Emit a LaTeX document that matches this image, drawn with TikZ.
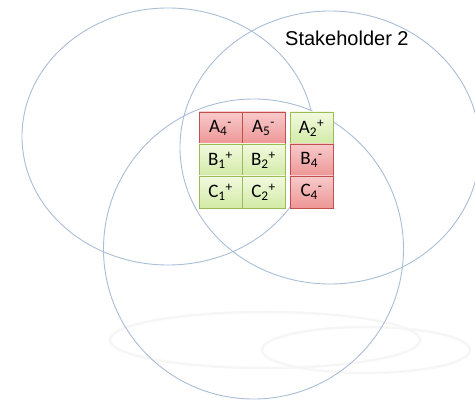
\documentclass[tikz,border=0pt]{standalone}
\usepackage{fontspec}
\setmainfont{Carlito}
\newfontfamily\labelfont{Liberation Sans}
\usetikzlibrary{shadows}
\definecolor{ringcol}{HTML}{A9BDD6}
\definecolor{redtop}{HTML}{F8CACA}
\definecolor{redbot}{HTML}{EE9696}
\definecolor{redline}{HTML}{C0504D}
\definecolor{greentop}{HTML}{F2FADF}
\definecolor{greenbot}{HTML}{D2EAA6}
\definecolor{greenline}{HTML}{9BBB59}
\definecolor{reflcol}{HTML}{F6F6F6}
\tikzset{
  ring/.style={draw=ringcol, line width=0.9pt},
  refl/.style={draw=reflcol, line width=2.5pt},
  cell/.style={minimum width=43pt, minimum height=32pt, inner sep=0pt,
    font=\fontsize{19}{22}\selectfont, line width=0.8pt,
    drop shadow={opacity=0.25, shadow xshift=1pt, shadow yshift=-1pt}},
  redcell/.style={cell, draw=redline, top color=redtop, bottom color=redbot},
  greencell/.style={cell, draw=greenline, top color=greentop, bottom color=greenbot}
}
\begin{document}
\begin{tikzpicture}[x=1pt,y=-1pt]
\useasboundingbox (0,0) rectangle (475,401);
% faint reflections
\draw[refl] (265,340) ellipse [x radius=155pt, y radius=28pt];
\draw[refl] (366,350) ellipse [x radius=104pt, y radius=23pt];
% rings
\draw[ring] (168,136.5) ellipse [x radius=146pt, y radius=128.5pt];
\draw[ring] (330,147.5) ellipse [x radius=150pt, y radius=136.5pt];
\draw[ring] (253.5,249) ellipse [x radius=150pt, y radius=150pt];
% label
\node[font=\labelfont\fontsize{20}{24}\selectfont, anchor=base west, inner sep=0pt] (sh2) at (285,46) {Stakeholder 2};
% cells
\node[redcell]   (a4) at (220.5,128) {A\textsubscript{4}\textsuperscript{-}};
\node[redcell]   (a5) at (263.5,128) {A\textsubscript{5}\textsuperscript{-}};
\node[greencell] (b1) at (220.5,160) {B\textsubscript{1}\textsuperscript{+}};
\node[greencell] (b2) at (263.5,160) {B\textsubscript{2}\textsuperscript{+}};
\node[greencell] (c1) at (220.5,192) {C\textsubscript{1}\textsuperscript{+}};
\node[greencell] (c2) at (263.5,192) {C\textsubscript{2}\textsuperscript{+}};
\node[greencell] (a2) at (311.5,128) {A\textsubscript{2}\textsuperscript{+}};
\node[redcell]   (b4) at (311.5,160) {B\textsubscript{4}\textsuperscript{-}};
\node[redcell]   (c4) at (311.5,192) {C\textsubscript{4}\textsuperscript{-}};
\end{tikzpicture}
\end{document}
